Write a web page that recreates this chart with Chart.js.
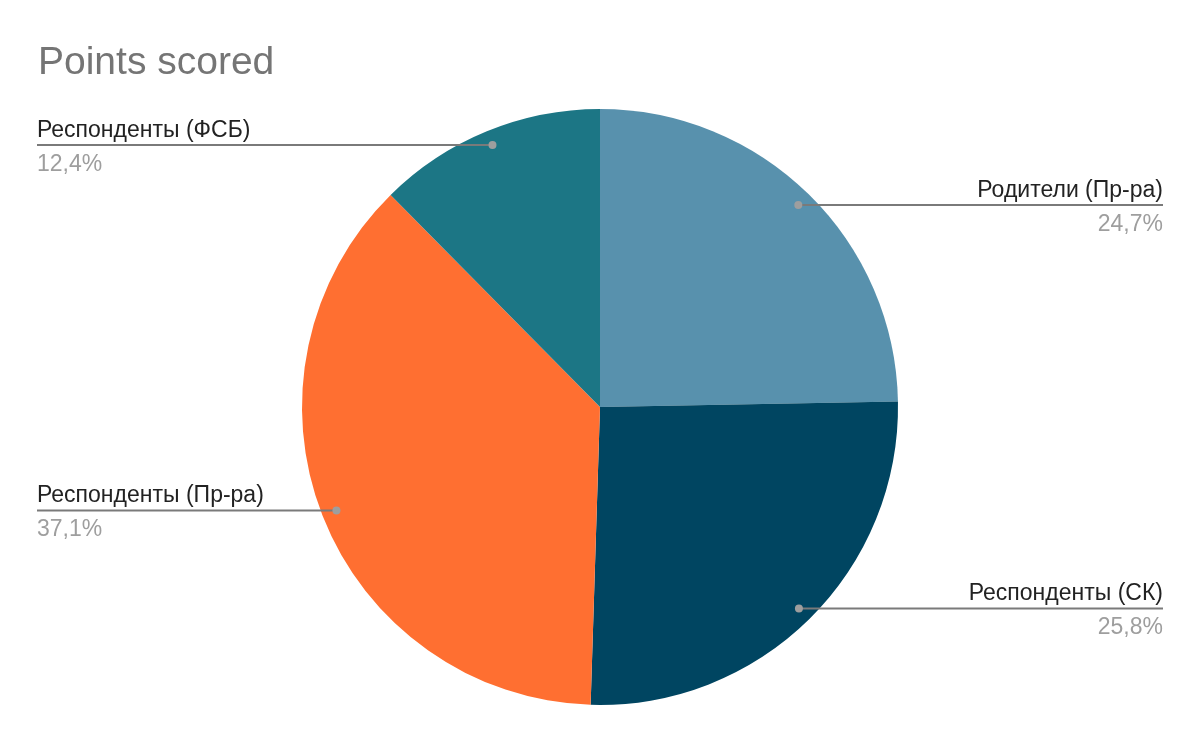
<!DOCTYPE html>
<html>
<head>
<meta charset="utf-8">
<script src="https://cdn.jsdelivr.net/npm/chart.js@4/dist/chart.umd.min.js"></script>
<style>
  html, body { margin: 0; padding: 0; background: #fff; }
  #wrap { width: 1200px; height: 742px; }
</style>
</head>
<body>
<div id="wrap"><canvas id="chart" width="1200" height="742"></canvas></div>
<script>
// данные диаграммы
const labels = ['Родители (Пр-ра)', 'Респонденты (СК)', 'Респонденты (Пр-ра)', 'Респонденты (ФСБ)'];
const points = [24.7, 25.8, 37.1, 12.4];
const colors = ['#5891AD', '#004561', '#FF6F31', '#1C7685'];

const FONT = '"Liberation Sans", Arial, sans-serif';

// подписи с выносками, как в Google Sheets
const leaderLabels = {
  id: 'leaderLabels',
  afterDraw(chart) {
    const ctx = chart.ctx;
    const meta = chart.getDatasetMeta(0);
    const data = chart.data.datasets[0].data;
    const total = data.reduce((a, b) => a + b, 0);
    const margin = 37;
    ctx.save();
    meta.data.forEach((arc, i) => {
      const { x, y, startAngle, endAngle, outerRadius } = arc.getProps(['x', 'y', 'startAngle', 'endAngle', 'outerRadius'], true);
      const mid = (startAngle + endAngle) / 2;
      const px = x + Math.cos(mid) * outerRadius * 0.95;
      const py = y + Math.sin(mid) * outerRadius * 0.95;
      const right = Math.cos(mid) >= 0;
      const endX = right ? chart.width - margin : margin;

      ctx.strokeStyle = '#7a7a7a';
      ctx.lineWidth = 2;
      ctx.beginPath();
      ctx.moveTo(px, py);
      ctx.lineTo(endX, py);
      ctx.stroke();

      ctx.fillStyle = '#9e9e9e';
      ctx.beginPath();
      ctx.arc(px, py, 4, 0, Math.PI * 2);
      ctx.fill();

      ctx.textAlign = right ? 'right' : 'left';
      ctx.textBaseline = 'alphabetic';
      ctx.font = '23px ' + FONT;
      ctx.fillStyle = '#222222';
      ctx.fillText(chart.data.labels[i], endX, py - 8);

      const pct = (data[i] / total * 100).toFixed(1).replace('.', ',') + '%';
      ctx.fillStyle = '#9e9e9e';
      ctx.fillText(pct, endX, py + 26);
    });
    ctx.restore();
  }
};

new Chart(document.getElementById('chart'), {
  type: 'pie',
  data: {
    labels: labels,
    datasets: [{
      data: points,
      backgroundColor: colors,
      borderWidth: 0
    }]
  },
  options: {
    responsive: false,
    animation: false,
    layout: { padding: { top: 0, bottom: 37, left: 38, right: 38 } },
    plugins: {
      legend: { display: false },
      tooltip: { enabled: false },
      title: {
        display: true,
        text: 'Points scored',
        align: 'start',
        color: '#757575',
        font: { family: FONT, size: 39, weight: 'normal' },
        padding: { top: 40, bottom: 22.2 }
      }
    }
  },
  plugins: [leaderLabels]
});
</script>
</body>
</html>
